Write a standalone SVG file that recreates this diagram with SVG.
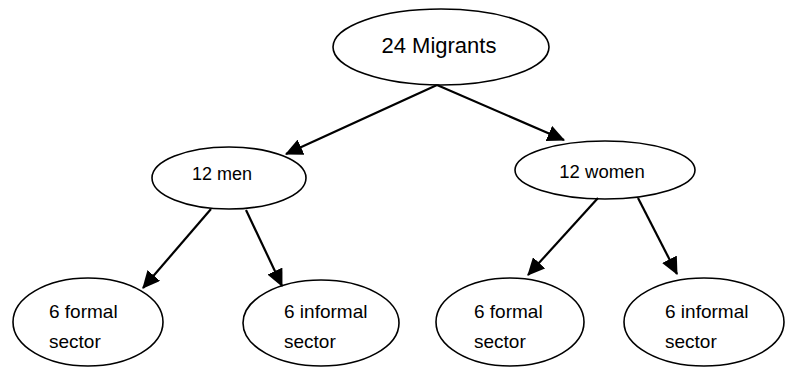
<svg xmlns="http://www.w3.org/2000/svg" width="785" height="367" viewBox="0 0 785 367">
<defs>
<marker id="ah" markerWidth="8" markerHeight="7.5" refX="7.5" refY="3.75" orient="auto" markerUnits="strokeWidth">
<path d="M0,0 L8,3.75 L0,7.5 Z" fill="#000"/>
</marker>
</defs>
<style>
.n{fill:#fff;stroke:#000;stroke-width:1.6}
.t{font-family:"Liberation Sans",Arial,sans-serif;fill:#000}
.c line{stroke:#000;stroke-width:2.2;marker-end:url(#ah)}
</style>
<rect width="785" height="367" fill="#fff"/>
<g id="n-migrants"><ellipse class="n" cx="441" cy="47" rx="108" ry="38"/><text class="t" x="439" y="53" font-size="22" text-anchor="middle">24 Migrants</text></g>
<g id="n-men"><ellipse class="n" cx="229" cy="178" rx="77" ry="31"/><text class="t" x="222" y="180" font-size="18" text-anchor="middle">12 men</text></g>
<g id="n-women"><ellipse class="n" cx="605" cy="170" rx="90" ry="29"/><text class="t" x="602" y="178" font-size="18.5" text-anchor="middle">12 women</text></g>
<g id="n-m-formal"><ellipse class="n" cx="88" cy="322" rx="75" ry="44"/><text class="t" x="49" y="318" font-size="19">6 formal</text><text class="t" x="49" y="348" font-size="19">sector</text></g>
<g id="n-m-informal"><ellipse class="n" cx="321" cy="323" rx="78" ry="43"/><text class="t" x="284" y="318" font-size="19">6 informal</text><text class="t" x="284" y="348" font-size="19">sector</text></g>
<g id="n-w-formal"><ellipse class="n" cx="510" cy="322" rx="74" ry="44"/><text class="t" x="474" y="318" font-size="19">6 formal</text><text class="t" x="474" y="348" font-size="19">sector</text></g>
<g id="n-w-informal"><ellipse class="n" cx="704" cy="322" rx="80" ry="44"/><text class="t" x="665" y="318" font-size="19">6 informal</text><text class="t" x="665" y="348" font-size="19">sector</text></g>
<g class="c" id="connectors">
<line x1="437" y1="85" x2="286" y2="154"/>
<line x1="437" y1="85" x2="564" y2="140"/>
<line x1="211" y1="209" x2="143" y2="288"/>
<line x1="246" y1="210" x2="282" y2="286"/>
<line x1="598" y1="198" x2="528" y2="275"/>
<line x1="638" y1="198" x2="677" y2="274"/>
</g>
</svg>
